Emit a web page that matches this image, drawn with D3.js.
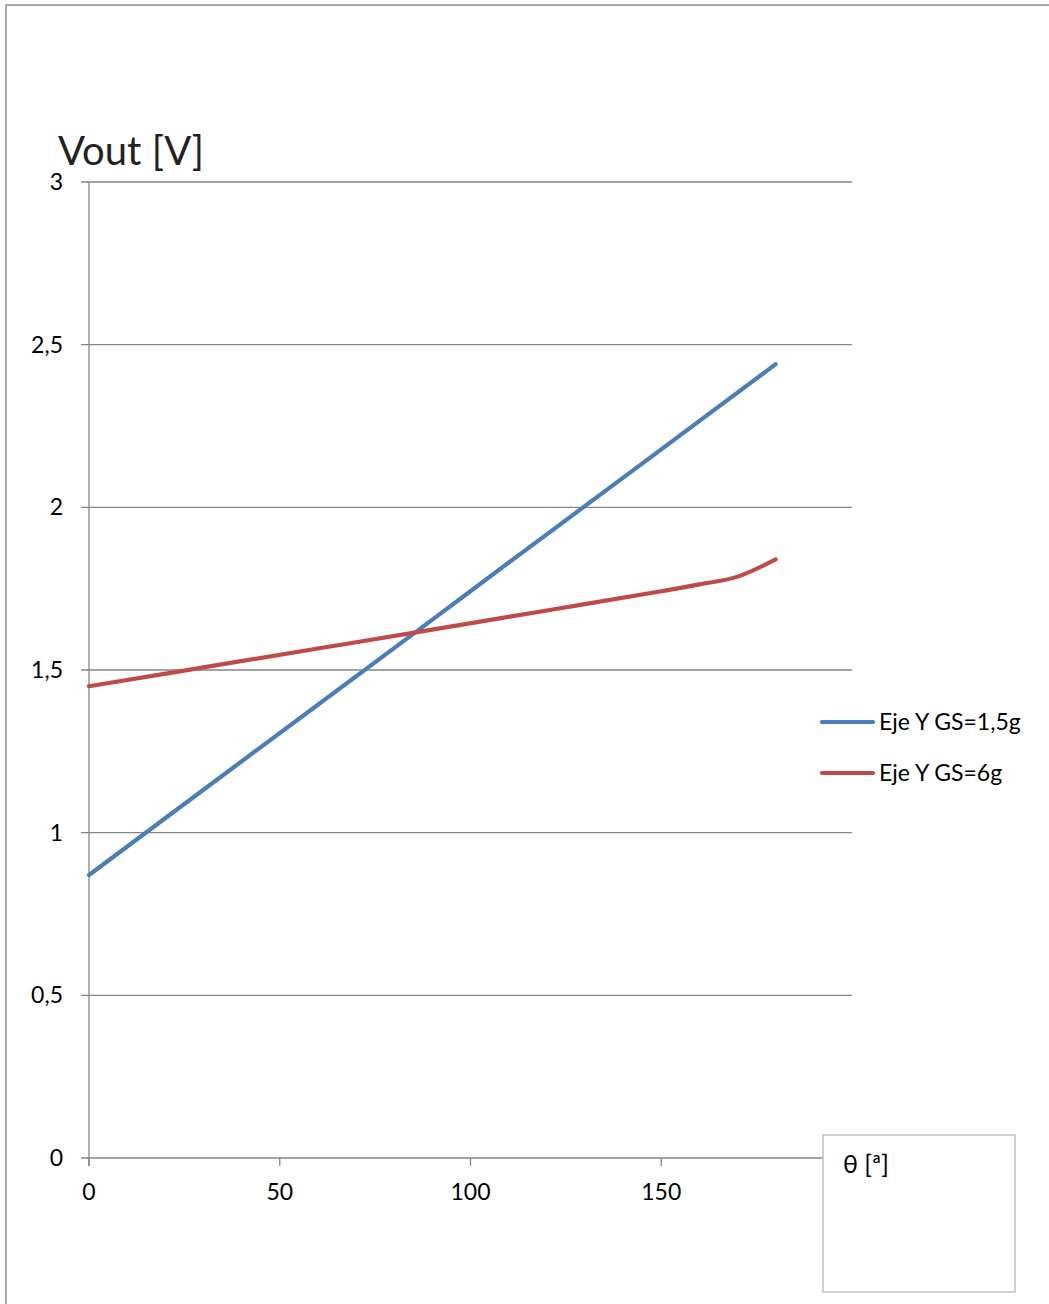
<!DOCTYPE html>
<html><head><meta charset="utf-8">
<script src="https://cdn.jsdelivr.net/npm/d3@7"></script>
<style>body{margin:0;background:#fff}svg{display:block}</style>
</head><body>
<script>
const xTicks = [0, 50, 100, 150];
const yTicks = [0, 0.5, 1, 1.5, 2, 2.5, 3];
const seriesNames = ["Eje Y GS=1,5g", "Eje Y GS=6g"];
const seriesColors = ["#4a7ebb", "#be4b48"];
const blueTheta = [0, 30, 60, 90, 120, 150, 180];
const blueVout = [0.87, 1.132, 1.393, 1.655, 1.917, 2.178, 2.44];
const redTheta = [0, 30, 60, 90, 120, 150, 160, 170, 180];
const redVout = [1.45, 1.508, 1.566, 1.624, 1.683, 1.742, 1.763, 1.787, 1.84];
const yTitle = "Vout [V]";
const xTitle = "θ [ª]";

const W = 1049, H = 1304;
const svg = d3.select("body").append("svg").attr("width", W).attr("height", H);
const font = "Lato, 'Open Sans', sans-serif";

svg.append("rect").attr("x", 6).attr("y", 5).attr("width", 1100).attr("height", 1400)
  .attr("fill", "none").attr("stroke", "#8c8c8c").attr("stroke-width", 1.5);

const x = d3.scaleLinear().domain([0, 200]).range([89, 852]);
const y = d3.scaleLinear().domain([0, 3]).range([1158, 182]);

// gridlines
svg.append("g").selectAll("line").data(yTicks).join("line")
  .attr("x1", 81).attr("x2", 852).attr("y1", d => y(d)).attr("y2", d => y(d))
  .attr("stroke", "#868686").attr("stroke-width", 1.3);

// y axis line
svg.append("line").attr("x1", x(0)).attr("x2", x(0)).attr("y1", y(3)).attr("y2", y(0) + 8)
  .attr("stroke", "#868686").attr("stroke-width", 1.3);

// x ticks
svg.append("g").selectAll("line").data(xTicks).join("line")
  .attr("x1", d => x(d)).attr("x2", d => x(d)).attr("y1", y(0)).attr("y2", y(0) + 8)
  .attr("stroke", "#868686").attr("stroke-width", 1.3);

// y labels
svg.append("g").selectAll("text").data(yTicks).join("text")
  .attr("x", 63).attr("y", d => y(d)).attr("dy", "0.35em").attr("text-anchor", "end")
  .attr("font-family", font).attr("font-size", 23).attr("fill", "#000")
  .text(d => String(d).replace(".", ","));

// x labels
svg.append("g").selectAll("text").data(xTicks).join("text")
  .attr("x", d => x(d)).attr("y", 1192).attr("dy", "0.35em").attr("text-anchor", "middle")
  .attr("font-family", font).attr("font-size", 23).attr("fill", "#000")
  .text(d => d);

const line = d3.line().x(d => x(d[0])).y(d => y(d[1])).curve(d3.curveMonotoneX);
const data = [
  blueTheta.map((t, i) => [t, blueVout[i]]),
  redTheta.map((t, i) => [t, redVout[i]])
];
svg.append("g").selectAll("path").data(data).join("path")
  .attr("d", line).attr("fill", "none")
  .attr("stroke", (d, i) => seriesColors[i]).attr("stroke-width", 4.2)
  .attr("stroke-linecap", "round").attr("stroke-linejoin", "round");

// y title
svg.append("text").attr("x", 58).attr("y", 165).attr("font-family", font)
  .attr("font-size", 40).attr("fill", "#222").text(yTitle);

// legend
const lg = svg.append("g").selectAll("g").data(seriesNames).join("g")
  .attr("transform", (d, i) => `translate(0,${722 + i * 51})`);
lg.append("line").attr("x1", 822).attr("x2", 873).attr("y1", 0).attr("y2", 0)
  .attr("stroke", (d, i) => seriesColors[i]).attr("stroke-width", 4.2).attr("stroke-linecap", "round");
lg.append("text").attr("x", 879).attr("y", 0).attr("dy", "0.35em")
  .attr("font-family", font).attr("font-size", 23).attr("fill", "#000").text(d => d);

// x title box
svg.append("rect").attr("x", 823).attr("y", 1135).attr("width", 192).attr("height", 157)
  .attr("fill", "#fff").attr("stroke", "#c0c0c0").attr("stroke-width", 1.5);
svg.append("text").attr("x", 843).attr("y", 1173).attr("font-family", font)
  .attr("font-size", 25).attr("fill", "#000").text(xTitle);
</script>
</body></html>
